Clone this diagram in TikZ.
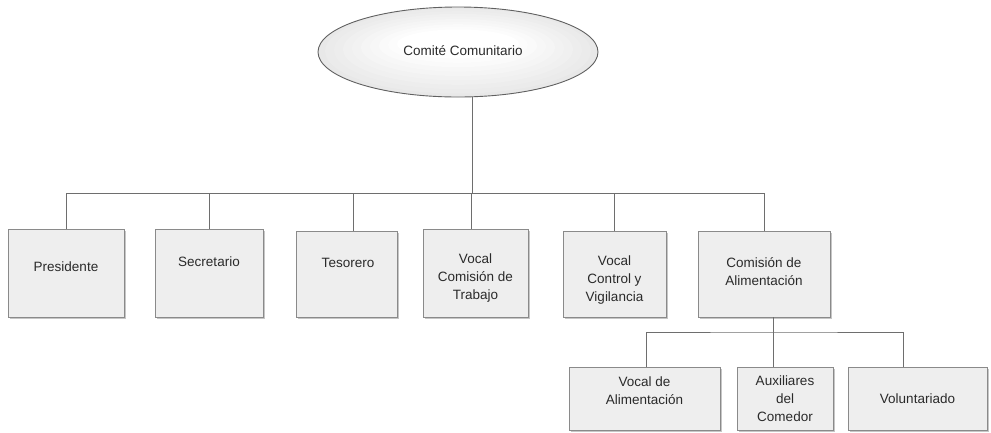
\documentclass[tikz,border=0pt]{standalone}
\usepackage{fontspec}
\setmainfont{Liberation Sans}
\usetikzlibrary{shapes.geometric,shadows}
\definecolor{boxline}{HTML}{8A8A8A}
\definecolor{boxfill}{HTML}{EEEEEE}
\definecolor{conn}{HTML}{6E6E6E}
\definecolor{txt}{HTML}{2A2A2A}
\begin{document}
\begin{tikzpicture}[x=1pt,y=-1pt,
  box/.style={draw=boxline,line width=0.9pt,fill=boxfill,inner sep=0pt,
    general shadow={fill=gray!45,shadow xshift=1.5pt,shadow yshift=-1.5pt}},
  lbl/.style={text=txt,align=center,font=\fontsize{13.5}{18}\selectfont,inner sep=0pt},
  link/.style={draw=conn,line width=0.9pt},
  softfill/.style={path picture={
    \foreach \k in {0,...,9}{
      \pgfmathsetmacro\g{int(18-2*\k)}
      \pgfmathsetmacro\rx{142-9*\k}
      \pgfmathsetmacro\ry{46-3.5*\k}
      \fill[gray!\g] ([yshift=0.9*\k pt]path picture bounding box.center)
        ellipse [x radius=\rx pt, y radius=\ry pt];
    }}}]
\useasboundingbox (0,0) rectangle (991,432);
% top ellipse
\node[ellipse,draw=gray!75!black,line width=0.9pt,softfill,
  minimum width=280,minimum height=90] (e) at (458,52) {};
\node[lbl] (te) at (463,51) {Comité Comunitario};
% first-level boxes
\node[box,minimum width=116,minimum height=88] (b1) at (66,273) {};
\node[box,minimum width=108,minimum height=88] (b2) at (209,273) {};
\node[box,minimum width=101,minimum height=86] (b3) at (346.5,274) {};
\node[box,minimum width=105,minimum height=88] (b4) at (475.5,273) {};
\node[box,minimum width=103,minimum height=86] (b5) at (614.5,274) {};
\node[box,minimum width=132,minimum height=86] (b6) at (764,274) {};
\node[lbl] (t1) at (66,267) {Presidente};
\node[lbl] (t2) at (209,262) {Secretario};
\node[lbl] (t3) at (348,263) {Tesorero};
\node[lbl] (t4) at (475.5,278) {Vocal\\Comisión de\\Trabajo};
\node[lbl] (t5) at (614.5,280) {Vocal\\Control y\\Vigilancia};
\node[lbl] (t6) at (764,272) {Comisión de\\Alimentación};
% second-level boxes
\node[box,minimum width=151,minimum height=63] (c1) at (644.5,398.5) {};
\node[box,minimum width=96,minimum height=63] (c2) at (785,398.5) {};
\node[box,minimum width=139,minimum height=63] (c3) at (917.5,398.5) {};
\node[lbl] (s1) at (644.5,390.5) {Vocal de\\Alimentación};
\node[lbl] (s2) at (785,399) {Auxiliares\\del\\Comedor};
\node[lbl] (s3) at (917.5,399) {Voluntariado};
% connectors level 1
\coordinate (bus) at (472,193);
\coordinate (x3) at (353,231);
\coordinate (x4) at (471,229);
\draw[link] (e.south -| bus) -- (bus);
\draw[link] (b1.north) |- (b6.north |- bus) -- (b6.north);
\draw[link] (b2.north |- bus) -- (b2.north);
\draw[link] (x3 |- bus) -- (x3);
\draw[link] (x4 |- bus) -- (x4);
\draw[link] (b5.north |- bus) -- (b5.north);
% connectors level 2
\coordinate (bus2) at (773,332);
\coordinate (y1) at (646,367);
\coordinate (y3) at (903,367);
\draw[link] (b6.south -| bus2) -- (bus2);
\draw[link] (y1) |- (bus2) -| (y3);
\draw[link] (bus2) -- (c2.north -| bus2);
\end{tikzpicture}
\end{document}
